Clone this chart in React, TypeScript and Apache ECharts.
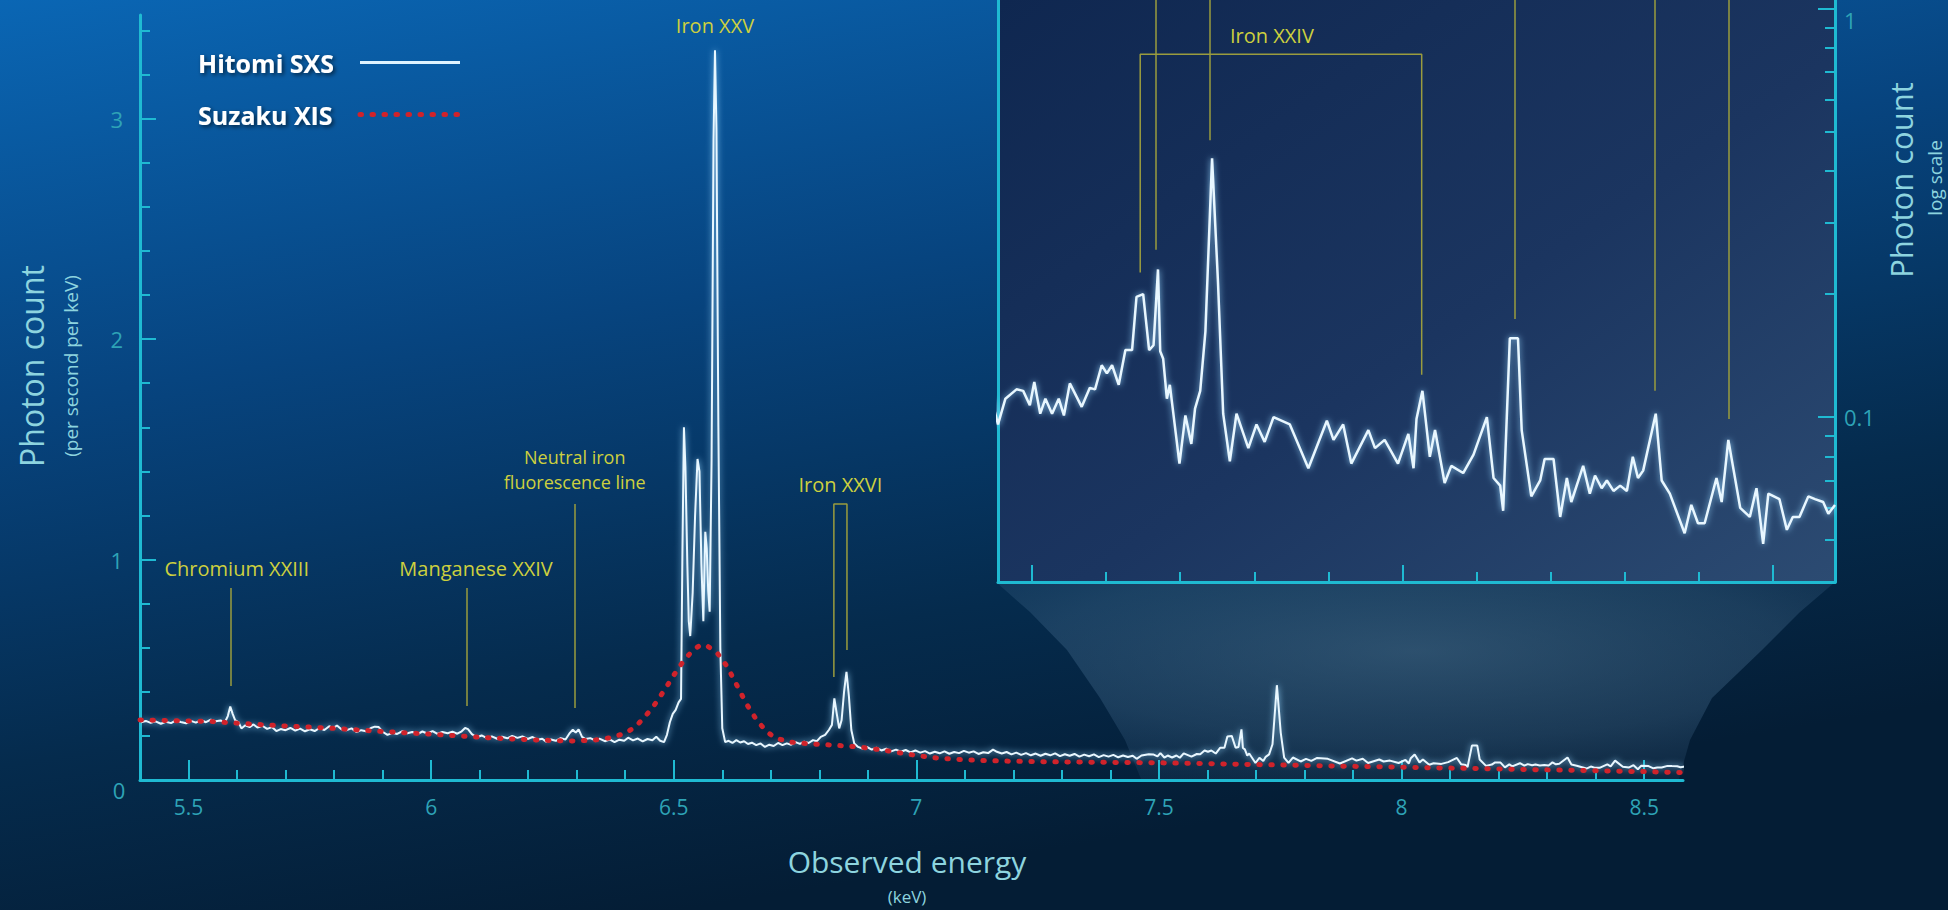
import React, { useEffect, useRef } from 'react';
import * as echarts from 'echarts';

const FONT = "'Open Sans', 'Noto Sans', 'DejaVu Sans', sans-serif";

// ---------- Hitomi SXS spectrum: [observed energy (keV), photons / s / keV] ----------
const sxsLow = [
  [5.402, 0.262], [5.412, 0.268], [5.422, 0.259], [5.432, 0.266], [5.443, 0.255], [5.453, 0.264],
  [5.464, 0.258], [5.474, 0.27], [5.484, 0.263], [5.495, 0.257], [5.505, 0.268], [5.515, 0.26],
  [5.526, 0.271], [5.536, 0.262], [5.546, 0.274], [5.556, 0.266], [5.566, 0.27], [5.575, 0.262],
  [5.581, 0.29], [5.586, 0.333], [5.591, 0.3], [5.596, 0.272], [5.603, 0.262], [5.609, 0.234],
  [5.617, 0.248], [5.626, 0.24], [5.634, 0.252], [5.642, 0.238], [5.652, 0.246], [5.662, 0.232],
  [5.672, 0.24], [5.681, 0.222], [5.69, 0.231], [5.7, 0.226], [5.71, 0.236], [5.72, 0.224],
  [5.73, 0.233], [5.74, 0.221], [5.75, 0.23], [5.76, 0.222], [5.77, 0.236], [5.78, 0.227],
  [5.79, 0.244], [5.798, 0.235], [5.806, 0.247], [5.815, 0.23], [5.826, 0.226], [5.836, 0.234],
  [5.846, 0.218], [5.856, 0.226], [5.866, 0.221], [5.876, 0.236], [5.884, 0.242], [5.892, 0.24],
  [5.9, 0.219], [5.91, 0.205], [5.92, 0.214], [5.93, 0.209], [5.941, 0.222], [5.951, 0.212],
  [5.961, 0.218], [5.972, 0.208], [5.982, 0.22], [5.992, 0.211], [6.003, 0.222], [6.013, 0.209],
  [6.023, 0.218], [6.034, 0.212], [6.044, 0.219], [6.054, 0.21], [6.063, 0.221], [6.07, 0.236],
  [6.076, 0.231], [6.084, 0.208], [6.094, 0.194], [6.104, 0.202], [6.115, 0.19], [6.125, 0.198],
  [6.136, 0.187], [6.146, 0.196], [6.157, 0.189], [6.167, 0.2], [6.178, 0.191], [6.188, 0.198],
  [6.199, 0.186], [6.209, 0.195], [6.219, 0.183], [6.229, 0.187], [6.237, 0.174], [6.247, 0.184],
  [6.257, 0.178], [6.267, 0.19], [6.277, 0.184], [6.286, 0.214], [6.292, 0.228], [6.298, 0.215],
  [6.304, 0.23], [6.311, 0.196], [6.318, 0.186], [6.328, 0.19], [6.338, 0.18], [6.348, 0.187],
  [6.358, 0.176], [6.368, 0.184], [6.378, 0.172], [6.388, 0.183], [6.398, 0.178], [6.406, 0.192],
  [6.416, 0.18], [6.426, 0.188], [6.436, 0.175], [6.446, 0.186], [6.456, 0.18], [6.464, 0.196],
  [6.472, 0.178], [6.48, 0.172],
];

const sxsIronComplex = [
  [6.486, 0.205], [6.492, 0.262], [6.498, 0.3], [6.504, 0.318], [6.51, 0.352], [6.515, 0.368],
  [6.518, 1.05], [6.521, 1.6], [6.524, 1.42], [6.528, 0.98], [6.531, 0.72], [6.534, 0.653],
  [6.539, 0.85], [6.544, 1.2], [6.549, 1.456], [6.553, 1.4], [6.557, 0.98], [6.561, 0.72],
  [6.565, 1.126], [6.568, 1.05], [6.571, 0.86], [6.574, 0.763], [6.578, 1.45], [6.582, 2.9],
  [6.585, 3.31], [6.588, 2.95], [6.592, 1.6], [6.596, 0.6], [6.6, 0.235], [6.606, 0.172],
];

const sxsMid = [
  [6.613, 0.178], [6.621, 0.168], [6.629, 0.181], [6.637, 0.17], [6.645, 0.176], [6.653, 0.163],
  [6.661, 0.169], [6.67, 0.158], [6.679, 0.166], [6.688, 0.15], [6.697, 0.16], [6.706, 0.154],
  [6.715, 0.168], [6.724, 0.158], [6.733, 0.166], [6.742, 0.16], [6.751, 0.172], [6.76, 0.164],
  [6.769, 0.174], [6.778, 0.168], [6.787, 0.181], [6.795, 0.176], [6.803, 0.196], [6.812, 0.205],
  [6.82, 0.228], [6.826, 0.25], [6.831, 0.37], [6.836, 0.3], [6.841, 0.234], [6.846, 0.272],
  [6.851, 0.4], [6.856, 0.491], [6.861, 0.38], [6.866, 0.227], [6.872, 0.166], [6.88, 0.15],
  [6.889, 0.142], [6.898, 0.15], [6.908, 0.138], [6.918, 0.146], [6.928, 0.134], [6.938, 0.142],
  [6.948, 0.13], [6.958, 0.138], [6.968, 0.128], [6.978, 0.136], [6.988, 0.125], [6.998, 0.134],
  [7.008, 0.124], [7.018, 0.131], [7.028, 0.12], [7.038, 0.128], [7.048, 0.121], [7.058, 0.13],
  [7.068, 0.119], [7.078, 0.127], [7.088, 0.122], [7.098, 0.132], [7.108, 0.124], [7.118, 0.13],
  [7.128, 0.118], [7.138, 0.126], [7.148, 0.122], [7.158, 0.138], [7.166, 0.128], [7.176, 0.12],
  [7.186, 0.127], [7.196, 0.116], [7.206, 0.124], [7.216, 0.114], [7.226, 0.122], [7.236, 0.112],
  [7.246, 0.12], [7.256, 0.11], [7.266, 0.119], [7.276, 0.112], [7.286, 0.121], [7.296, 0.108],
  [7.306, 0.117], [7.316, 0.11], [7.326, 0.118], [7.336, 0.106], [7.346, 0.115], [7.356, 0.108],
  [7.366, 0.116], [7.376, 0.104], [7.386, 0.113], [7.396, 0.106], [7.406, 0.114], [7.416, 0.103],
  [7.426, 0.111], [7.436, 0.104], [7.446, 0.11],
];

const sxsHigh = [
  [7.454, 0.096], [7.464, 0.111], [7.479, 0.117], [7.488, 0.116], [7.497, 0.107], [7.503, 0.122],
  [7.511, 0.102], [7.518, 0.111], [7.527, 0.102], [7.536, 0.111], [7.543, 0.101], [7.551, 0.121],
  [7.567, 0.106], [7.578, 0.118], [7.585, 0.117], [7.594, 0.134], [7.601, 0.128], [7.608, 0.134],
  [7.617, 0.12], [7.626, 0.146], [7.635, 0.146], [7.641, 0.197], [7.65, 0.2], [7.658, 0.146],
  [7.664, 0.15], [7.67, 0.23], [7.673, 0.145], [7.677, 0.139], [7.682, 0.111], [7.686, 0.12],
  [7.699, 0.077], [7.707, 0.101], [7.715, 0.086], [7.72, 0.105], [7.727, 0.116], [7.734, 0.162],
  [7.743, 0.43], [7.751, 0.214], [7.758, 0.102], [7.767, 0.078], [7.776, 0.102], [7.792, 0.084],
  [7.803, 0.096], [7.814, 0.087], [7.826, 0.1], [7.848, 0.096], [7.873, 0.075], [7.898, 0.098],
  [7.907, 0.088], [7.92, 0.096], [7.931, 0.077], [7.954, 0.093], [7.963, 0.084], [7.976, 0.088],
  [7.994, 0.077], [8.008, 0.091], [8.015, 0.075], [8.019, 0.099], [8.027, 0.116], [8.037, 0.08],
  [8.044, 0.093], [8.057, 0.069], [8.066, 0.076], [8.082, 0.073], [8.096, 0.081], [8.114, 0.1],
  [8.123, 0.071], [8.132, 0.068], [8.136, 0.059], [8.145, 0.156], [8.156, 0.156], [8.161, 0.093],
  [8.174, 0.064], [8.186, 0.07], [8.192, 0.079], [8.204, 0.079], [8.213, 0.057], [8.222, 0.071],
  [8.228, 0.062], [8.244, 0.076], [8.253, 0.065], [8.26, 0.072], [8.269, 0.067], [8.276, 0.07],
  [8.285, 0.066], [8.294, 0.068], [8.303, 0.066], [8.311, 0.08], [8.318, 0.071], [8.325, 0.074],
  [8.342, 0.102], [8.35, 0.07], [8.361, 0.065], [8.381, 0.052], [8.39, 0.061], [8.399, 0.055],
  [8.408, 0.055], [8.424, 0.071], [8.431, 0.062], [8.44, 0.088], [8.456, 0.06], [8.469, 0.057],
  [8.478, 0.067], [8.487, 0.049], [8.494, 0.065], [8.509, 0.063], [8.519, 0.053], [8.527, 0.057],
  [8.536, 0.057], [8.548, 0.064], [8.557, 0.063], [8.568, 0.062], [8.575, 0.058], [8.584, 0.061],
];

// ---------- Suzaku XIS spectrum ----------
const xisSpectrum = [
  [5.4, 0.272], [5.45, 0.27], [5.5, 0.268], [5.55, 0.265], [5.6, 0.258], [5.65, 0.251],
  [5.7, 0.245], [5.75, 0.24], [5.8, 0.234], [5.85, 0.227], [5.9, 0.22], [5.95, 0.214],
  [6.0, 0.208], [6.05, 0.201], [6.1, 0.194], [6.15, 0.188], [6.2, 0.183], [6.25, 0.179],
  [6.3, 0.177], [6.34, 0.182], [6.37, 0.192], [6.4, 0.212], [6.42, 0.24], [6.44, 0.285],
  [6.46, 0.34], [6.48, 0.405], [6.5, 0.475], [6.52, 0.54], [6.54, 0.59], [6.555, 0.612],
  [6.57, 0.607], [6.59, 0.575], [6.61, 0.515], [6.63, 0.43], [6.65, 0.345], [6.67, 0.275],
  [6.69, 0.222], [6.71, 0.19], [6.74, 0.172], [6.78, 0.164], [6.83, 0.158], [6.88, 0.15],
  [6.93, 0.136], [6.98, 0.118], [7.03, 0.102], [7.08, 0.094], [7.14, 0.088], [7.2, 0.085],
  [7.3, 0.082], [7.4, 0.08], [7.5, 0.078], [7.6, 0.074], [7.7, 0.07], [7.8, 0.066],
  [7.9, 0.062], [8.0, 0.058], [8.1, 0.054], [8.2, 0.05], [8.3, 0.046], [8.4, 0.042],
  [8.5, 0.038], [8.58, 0.034],
];

// ---------- ticks ----------
const mainXMajor = [5.5, 6, 6.5, 7, 7.5, 8, 8.5];
const mainXMinor = [
  5.6, 5.7, 5.8, 5.9, 6.1, 6.2, 6.3, 6.4, 6.6, 6.7, 6.8, 6.9, 7.1, 7.2, 7.3, 7.4,
  7.6, 7.7, 7.8, 7.9, 8.1, 8.2, 8.3, 8.4,
];
const mainYMajor = [1, 2, 3];
const mainYMinor = [0.2, 0.4, 0.6, 0.8, 1.2, 1.4, 1.6, 1.8, 2.2, 2.4, 2.6, 2.8, 3.2, 3.4];
const insetXMajor = [7.5, 8, 8.5];
const insetXMinor = [7.6, 7.7, 7.8, 7.9, 8.1, 8.2, 8.3, 8.4];
const insetYMajor = [0.1, 1];
const insetYMinor = [0.05, 0.06, 0.07, 0.08, 0.09, 0.2, 0.3, 0.4, 0.5, 0.6, 0.7, 0.8, 0.9];

// ---------- line identifications ----------
const mainLineMarks = [
  { label: 'Chromium XXIII', energy: 5.587, low: 0.426, high: 0.871 },
  { label: 'Manganese XXIV', energy: 6.074, low: 0.336, high: 0.871 },
  { label: 'Neutral iron\nfluorescence line', energy: 6.296, low: 0.327, high: 1.252 },
];
const ironXXV = { label: 'Iron XXV', energy: 6.585, peak: 3.31 };
const ironXXVI = { label: 'Iron XXVI', energies: [6.83, 6.857], lows: [0.467, 0.59], top: 1.252 };
const insetLineMarks = [
  { energy: 7.667, low: 0.257 },
  { energy: 7.74, low: 0.476 },
  { energy: 8.152, low: 0.174 },
  { energy: 8.341, low: 0.116 },
  { energy: 8.441, low: 0.099 },
];
const ironXXIV = { label: 'Iron XXIV', energies: [7.646, 8.026], lows: [0.226, 0.127], top: 0.773 };

const mainRange = [5.4, 8.58];
const mainCountRange = [0, 3.47];
const insetRange = [7.454, 8.584];
const insetCountRange = [0.0395, 1.05];

// ---------- styles ----------
const AXIS = '#1fbad2';
const TICK_TXT = '#2ea3b6';
const TITLE = '#8dd4df';
const MARK = '#9a9c3e';
const MARK_TXT = '#cdd03e';
const SXS = '#e8f7ff';
const XIS = '#d0232b';

function buildOption() {
  const sxs = [...sxsLow, ...sxsIronComplex, ...sxsMid, ...sxsHigh];
  const tickLine = { color: AXIS, width: 2 };
  const markLabel = { color: MARK_TXT, fontFamily: FONT, fontSize: 20, lineHeight: 22 };
  const mainMarkLabels = [
    { offset: [6, 0] },
    { offset: [9, 0] },
    { offset: [0, 0], fontSize: 18, lineHeight: 25, distance: 9 },
  ];

  const minorAxis = (extra: any) => ({
    type: 'value',
    axisLine: { show: false, onZero: false },
    axisLabel: { show: false },
    splitLine: { show: false },
    ...extra,
  });

  return {
    animation: false,
    backgroundColor: new echarts.graphic.LinearGradient(0, 0, 0.35, 1, [
      { offset: 0, color: '#0a66b4' },
      { offset: 0.4, color: '#07447f' },
      { offset: 0.75, color: '#052b4d' },
      { offset: 1, color: '#041d35' },
    ]),
    grid: [
      { left: 140, top: 15, width: 1543, height: 765, show: false },
      {
        left: 998, top: -5, width: 837, height: 587, show: true, borderWidth: 0,
        backgroundColor: new echarts.graphic.LinearGradient(0, 0, 1, 1, [
          { offset: 0, color: '#0f2750' },
          { offset: 0.55, color: '#1b3560' },
          { offset: 1, color: '#2c4b72' },
        ]),
      },
    ],
    legend: {
      orient: 'vertical', left: 193, top: 45, itemWidth: 100, itemHeight: 20, itemGap: 27,
      align: 'right', selectedMode: false,
      itemStyle: { opacity: 0 },
      formatter: '{t|{name}}',
      textStyle: {
        color: '#ffffff', fontFamily: FONT, fontSize: 25, fontWeight: 'bold',
        rich: {
          t: {
            width: 157, align: 'left', color: '#ffffff', fontFamily: FONT, fontSize: 25,
            fontWeight: 'bold', lineHeight: 30,
            textShadowColor: 'rgba(0,0,0,0.6)', textShadowBlur: 4, textShadowOffsetX: 2, textShadowOffsetY: 2,
          },
        },
      },
      data: [
        { name: 'Hitomi SXS', lineStyle: { color: '#dff3ff', width: 3, type: 'solid' } },
        { name: 'Suzaku XIS', lineStyle: { color: XIS, width: 5, type: [1.5, 10.5], cap: 'round' } },
      ],
    },
    xAxis: [
      {
        gridIndex: 0, type: 'value', min: mainRange[0], max: mainRange[1], position: 'bottom', z: 4,
        axisLine: { show: true, onZero: false, lineStyle: { color: AXIS, width: 3 } },
        axisTick: { show: true, inside: true, length: 20, customValues: mainXMajor, lineStyle: tickLine },
        axisLabel: { customValues: mainXMajor, color: TICK_TXT, fontSize: 21, fontFamily: FONT, margin: 16 },
        splitLine: { show: false },
      },
      minorAxis({
        gridIndex: 0, min: mainRange[0], max: mainRange[1], position: 'bottom', z: 4,
        axisTick: { show: true, inside: true, length: 10, customValues: mainXMinor, lineStyle: tickLine },
      }),
      {
        gridIndex: 1, type: 'value', min: insetRange[0], max: insetRange[1], position: 'bottom', z: 4,
        axisLine: { show: true, onZero: false, lineStyle: { color: AXIS, width: 3 } },
        axisTick: { show: true, inside: true, length: 17, customValues: insetXMajor, lineStyle: tickLine },
        axisLabel: { show: false },
        splitLine: { show: false },
      },
      minorAxis({
        gridIndex: 1, min: insetRange[0], max: insetRange[1], position: 'bottom', z: 4,
        axisTick: { show: true, inside: true, length: 10, customValues: insetXMinor, lineStyle: tickLine },
      }),
    ],
    yAxis: [
      {
        gridIndex: 0, type: 'value', min: mainCountRange[0], max: mainCountRange[1], position: 'left', z: 4,
        axisLine: { show: true, onZero: false, lineStyle: { color: AXIS, width: 3 } },
        axisTick: { show: true, inside: true, length: 16, customValues: mainYMajor, lineStyle: tickLine },
        axisLabel: { customValues: mainYMajor, color: TICK_TXT, fontSize: 22, fontFamily: FONT, margin: 17 },
        splitLine: { show: false },
      },
      minorAxis({
        gridIndex: 0, min: mainCountRange[0], max: mainCountRange[1], position: 'left', z: 4,
        axisTick: { show: true, inside: true, length: 10, customValues: mainYMinor, lineStyle: tickLine },
      }),
      {
        gridIndex: 1, type: 'log', logBase: 10, min: insetCountRange[0], max: insetCountRange[1],
        position: 'right', z: 4,
        axisLine: { show: true, onZero: false, lineStyle: { color: AXIS, width: 3 } },
        axisTick: { show: true, inside: true, length: 17, customValues: insetYMajor, lineStyle: tickLine },
        axisLabel: {
          customValues: insetYMajor, color: TICK_TXT, fontSize: 22, fontFamily: FONT, margin: 9,
          formatter: (v: number) => (v >= 1 ? '{top|' + v + '}' : String(v)),
          rich: { top: { color: TICK_TXT, fontSize: 22, fontFamily: FONT, padding: [22, 0, 0, 0] } },
        },
        splitLine: { show: false },
      },
      {
        gridIndex: 1, type: 'log', logBase: 10, min: insetCountRange[0], max: insetCountRange[1],
        position: 'right', z: 4,
        axisLine: { show: false, onZero: false },
        axisTick: { show: true, inside: true, length: 10, customValues: insetYMinor, lineStyle: tickLine },
        axisLabel: { show: false },
        splitLine: { show: false },
      },
      {
        gridIndex: 1, type: 'log', logBase: 10, min: insetCountRange[0], max: insetCountRange[1],
        position: 'left', z: 4,
        axisLine: { show: true, onZero: false, lineStyle: { color: AXIS, width: 3 } },
        axisTick: { show: false },
        axisLabel: { show: false },
        splitLine: { show: false },
      },
    ],
    series: [
      {
        name: 'Hitomi SXS', type: 'line', xAxisIndex: 0, yAxisIndex: 0, data: sxs,
        symbol: 'none', z: 5, silent: true,
        lineStyle: { color: SXS, width: 2, shadowBlur: 6, shadowColor: 'rgba(150,215,255,0.9)' },
        itemStyle: { color: SXS },
      },
      {
        name: 'Suzaku XIS', type: 'line', xAxisIndex: 0, yAxisIndex: 0, data: xisSpectrum,
        symbol: 'none', z: 6, silent: true,
        lineStyle: { color: XIS, width: 5, type: [1.5, 10.5], cap: 'round' },
        itemStyle: { color: XIS },
      },
      {
        name: 'Iron XXVI lines', type: 'line', xAxisIndex: 0, yAxisIndex: 0, symbol: 'none', z: 3, silent: true,
        data: [
          [ironXXVI.energies[0], ironXXVI.lows[0]], [ironXXVI.energies[0], ironXXVI.top],
          [ironXXVI.energies[1], ironXXVI.top], [ironXXVI.energies[1], ironXXVI.lows[1]],
        ],
        lineStyle: { color: MARK, width: 1.5 },
        itemStyle: { color: MARK },
        markLine: {
          symbol: 'none', silent: true, animation: false,
          lineStyle: { color: MARK, width: 1.5, type: 'solid' },
          label: { show: true, position: 'end', distance: 8, formatter: '{b}', ...markLabel },
          data: mainLineMarks.map((m, i) => [
            { name: m.label, coord: [m.energy, m.low], label: mainMarkLabels[i] },
            { name: m.label, coord: [m.energy, m.high] },
          ]),
        },
        markPoint: {
          symbol: 'circle', symbolSize: 0, silent: true, animation: false,
          itemStyle: { color: 'rgba(0,0,0,0)' },
          label: { show: true, position: 'top', formatter: '{b}', ...markLabel },
          data: [
            { name: ironXXV.label, coord: [ironXXV.energy, ironXXV.peak], label: { distance: 14 } },
            { name: ironXXVI.label, coord: [(ironXXVI.energies[0] + ironXXVI.energies[1]) / 2, ironXXVI.top], label: { distance: 8 } },
          ],
        },
      },
      {
        name: 'Hitomi SXS', type: 'line', xAxisIndex: 2, yAxisIndex: 2, data: sxs,
        symbol: 'none', z: 5, silent: true, clip: true,
        lineStyle: { color: SXS, width: 2.5, shadowBlur: 6, shadowColor: 'rgba(150,215,255,0.9)' },
        itemStyle: { color: SXS },
      },
      {
        name: 'Iron XXIV lines', type: 'line', xAxisIndex: 2, yAxisIndex: 2, symbol: 'none', z: 3, silent: true,
        data: [
          [ironXXIV.energies[0], ironXXIV.lows[0]], [ironXXIV.energies[0], ironXXIV.top],
          [ironXXIV.energies[1], ironXXIV.top], [ironXXIV.energies[1], ironXXIV.lows[1]],
        ],
        lineStyle: { color: MARK, width: 1.5 },
        itemStyle: { color: MARK },
        markLine: {
          symbol: 'none', silent: true, animation: false,
          lineStyle: { color: MARK, width: 1.5, type: 'solid' },
          label: { show: false },
          data: insetLineMarks.map((m) => [
            { coord: [m.energy, m.low] },
            { coord: [m.energy, insetCountRange[1]] },
          ]),
        },
        markPoint: {
          symbol: 'circle', symbolSize: 0, silent: true, animation: false,
          itemStyle: { color: 'rgba(0,0,0,0)' },
          label: { show: true, position: 'top', distance: 8, offset: [-9, 0], formatter: '{b}', ...markLabel },
          data: [
            { name: ironXXIV.label, coord: [(ironXXIV.energies[0] + ironXXIV.energies[1]) / 2, ironXXIV.top] },
          ],
        },
      },
    ],
    graphic: [
      {
        type: 'polygon', z: 0, silent: true,
        shape: {
          points: [
            [996, 582], [1030, 612], [1067, 650], [1100, 698], [1125, 740], [1141, 779],
            [1679, 779], [1690, 740], [1712, 698], [1762, 650], [1800, 612], [1835, 582],
          ],
        },
        style: {
          fill: new echarts.graphic.RadialGradient(0.5, 0.35, 0.75, [
            { offset: 0, color: 'rgba(100,140,170,0.42)' },
            { offset: 0.6, color: 'rgba(80,120,155,0.3)' },
            { offset: 1, color: 'rgba(60,100,140,0.12)' },
          ]),
        },
      },
      {
        type: 'text', x: 119, y: 790, z: 10, silent: true,
        style: { text: '0', fill: TICK_TXT, fontSize: 22, fontFamily: FONT, align: 'center', verticalAlign: 'middle' },
      },
      {
        type: 'text', x: 907, y: 861, z: 10, silent: true,
        style: { text: 'Observed energy', fill: TITLE, fontSize: 30, fontFamily: FONT, align: 'center', verticalAlign: 'middle' },
      },
      {
        type: 'text', x: 907, y: 896, z: 10, silent: true,
        style: { text: '(keV)', fill: TITLE, fontSize: 17, fontFamily: FONT, align: 'center', verticalAlign: 'middle' },
      },
      {
        type: 'text', x: 31, y: 366, rotation: Math.PI / 2, z: 10, silent: true,
        style: { text: 'Photon count', fill: TITLE, fontSize: 32, fontFamily: FONT, align: 'center', verticalAlign: 'middle' },
      },
      {
        type: 'text', x: 71, y: 366, rotation: Math.PI / 2, z: 10, silent: true,
        style: { text: '(per second per keV)', fill: TITLE, fontSize: 19, fontFamily: FONT, align: 'center', verticalAlign: 'middle' },
      },
      {
        type: 'text', x: 1901, y: 180, rotation: Math.PI / 2, z: 10, silent: true,
        style: { text: 'Photon count', fill: TITLE, fontSize: 31, fontFamily: FONT, align: 'center', verticalAlign: 'middle' },
      },
      {
        type: 'text', x: 1935, y: 178, rotation: Math.PI / 2, z: 10, silent: true,
        style: { text: 'log scale', fill: TITLE, fontSize: 19, fontFamily: FONT, align: 'center', verticalAlign: 'middle' },
      },
    ],
  };
}

export default function App() {
  const ref = useRef<HTMLDivElement>(null);
  useEffect(() => {
    if (!ref.current) return;
    const chart = echarts.init(ref.current, undefined, { renderer: 'svg' });
    chart.setOption(buildOption() as any);
    return () => chart.dispose();
  }, []);
  return (
    <div
      ref={ref}
      style={{ position: 'fixed', left: 0, top: 0, width: 1948, height: 910 }}
    />
  );
}
